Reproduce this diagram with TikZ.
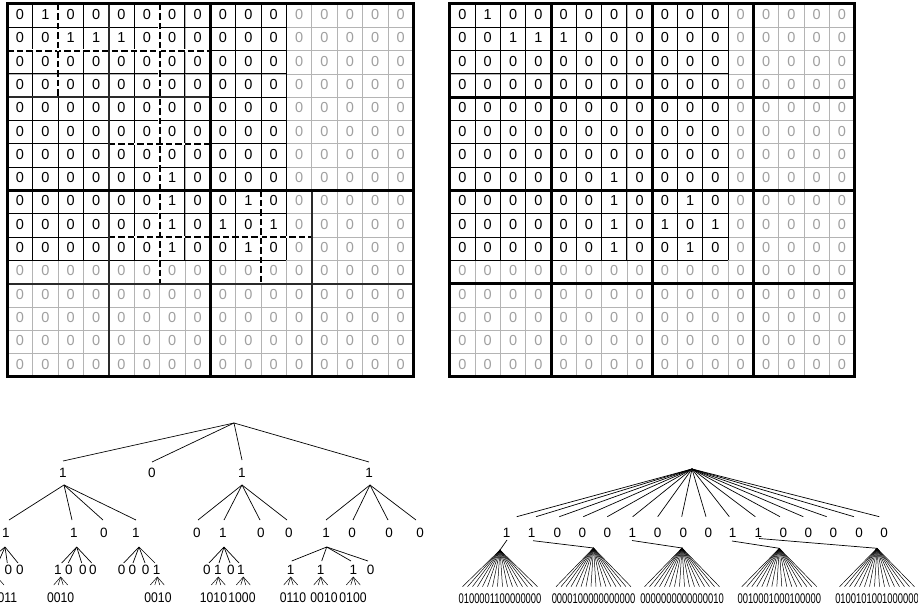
\documentclass[tikz,border=0pt]{standalone}
\usepackage{fontspec}
\setmainfont{Liberation Sans}
\usepackage{graphicx}
\usetikzlibrary{calc}
\definecolor{gline}{HTML}{B4B4B4}
\definecolor{gdigit}{HTML}{A0A0A0}
\definecolor{mline}{HTML}{2A2A2A}
\def\setone#1#2{\expandafter\def\csname one-#1-#2\endcsname{}}
\setone{0}{1}\setone{1}{2}\setone{1}{3}\setone{1}{4}\setone{7}{6}\setone{8}{6}
\setone{8}{9}\setone{9}{6}\setone{9}{8}\setone{9}{10}\setone{10}{6}\setone{10}{9}
\newcommand\cellval[2]{\ifcsname one-#1-#2\endcsname 1\else 0\fi}
\tikzset{
  thinb/.style={black, line width=1pt},
  thing/.style={gline, line width=0.8pt},
  medl/.style={mline, line width=1.8pt},
  thickl/.style={black, line width=3pt},
  dashw/.style={white, line width=2.4pt},
  dashb/.style={black, line width=2pt, dash pattern=on 6.5pt off 3pt},
  digit/.style={font=\fontsize{14.5}{16}\selectfont, inner sep=0pt},
  tlab/.style={font=\fontsize{13.5}{15}\selectfont, inner sep=0pt},
  edge/.style={black, line width=0.7pt},
  fan/.style={black, line width=0.5pt},
  sleaf/.style={font=\fontsize{14}{15}\selectfont, inner sep=0pt},
  bleaf/.style={font=\fontsize{14}{15}\selectfont, inner sep=0pt},
}
\newcommand\basegrid[1]{%
  \foreach \ii in {0,...,16} {\draw[thing] (\ii,0) -- (\ii,16); \draw[thing] (0,\ii) -- (16,\ii);}
  \foreach \ii in {0,...,11} {\draw[thinb] (\ii,0) -- (\ii,11); \draw[thinb] (0,\ii) -- (11,\ii);}
  \foreach \rr in {0,...,15} {\foreach \cc in {0,...,15} {
    \ifnum\rr<11 \ifnum\cc<11 \def\dcol{black}\else\def\dcol{gdigit}\fi\else\def\dcol{gdigit}\fi
    \node[digit, text=\dcol] (#1-\rr-\cc) at (\cc+0.5,\rr+0.45) {\cellval{\rr}{\cc}};
  }}%
}
\newcommand\dline[2]{\draw[dashw] #1 -- #2; \draw[dashb] #1 -- #2;}
\begin{document}
\begin{tikzpicture}[x=1pt,y=-1pt]
\useasboundingbox (0,0) rectangle (918,609);
\clip (0,0) rectangle (918,609);
\fill[white] (0,0) rectangle (918,609);

% ---------- left grid ----------
\begin{scope}[shift={(7.3,4)}, x=25.375pt, y=-23.31pt]
  \basegrid{GL}
  \dline{(0,2)}{(8,2)}
  \dline{(2,0)}{(2,4)}
  \dline{(6,0)}{(6,12)}
  \dline{(4,6)}{(8,6)}
  \dline{(4,10)}{(12,10)}
  \dline{(10,8)}{(10,12)}
  \draw[medl] (4,0) -- (4,16);
  \draw[medl] (0,4) -- (8,4);
  \draw[medl] (0,12) -- (16,12);
  \draw[medl] (12,8) -- (12,16);
  \draw[thickl] (8,0) -- (8,16);
  \draw[thickl] (0,8) -- (16,8);
  \draw[thickl] (0,0) rectangle (16,16);
\end{scope}

% ---------- right grid ----------
\begin{scope}[shift={(449.8,4)}, x=25.3pt, y=-23.31pt]
  \basegrid{GR}
  \foreach \ii in {4,8,12} {\draw[thickl] (\ii,0) -- (\ii,16); \draw[thickl] (0,\ii) -- (16,\ii);}
  \draw[thickl] (0,0) rectangle (16,16);
\end{scope}

% ---------- left tree ----------
\coordinate (lroot) at (234,423);
\foreach \nn/\xx/\vv in {a1/63/1,a2/152/0,a3/242/1,a4/369/1}{\node[tlab] (\nn) at (\xx,473) {\vv};}
\foreach \nn/\dy in {a1/-12,a2/-11,a3/-13,a4/-11}{\draw[edge] (lroot) -- ($(\nn)+(0,\dy)$);}
\foreach \nn/\xx/\vv in {b1/6/1,b2/74/1,b3/104/0,b4/136/1,b5/197/0,b6/223/1,b7/261/0,b8/289/0,b9/326/1,b10/352/0,b11/389/0,b12/420/0}{\node[tlab] (\nn) at (\xx,533) {\vv};}
\foreach \pp/\pdx/\cn/\dx in {a1/1/b1/3,a1/1/b2/-2,a1/1/b3/-1,a1/1/b4/0,a3/0/b5/1,a3/0/b6/1,a3/0/b7/-1,a3/0/b8/-2,a4/1/b9/0,a4/1/b10/1,a4/1/b11/-1,a4/1/b12/-4}{\draw[edge] ($(\pp)+(\pdx,12)$) -- ($(\cn)+(\dx,-13)$);}
\foreach \nn/\xx/\vv in {c1/-17/1,c2/-4/1,c3/8.3/0,c4/20/0,c5/58/1,c6/69/0,c7/83/0,c8/93/0,c9/121.7/0,c10/132.3/0,c11/145.7/0,c12/156.7/1,c13/207/0,c14/218/1,c15/231/0,c16/241/1,c17/290.7/1,c18/320.7/1,c19/353.3/1,c20/370.7/0}{\node[tlab] (\nn) at (\xx,570) {\vv};}
\foreach \pp/\pdx/\cn/\dx/\dy in {b1/-1/c1/3/-7,b1/-1/c2/2/-7,b1/-1/c3/-1/-7,b1/-1/c4/-2/-7,b2/2.7/c5/3.7/-7,b2/2.7/c6/-0.7/-7,b2/2.7/c7/-1.3/-7,b2/2.7/c8/-1.3/-7,b4/3/c9/2/-7,b4/3/c10/0.7/-7,b4/3/c11/-0.7/-7,b4/3/c12/-1.7/-7,b6/1/c13/2/-7,b6/1/c14/1/-7,b6/1/c15/-1/-7,b6/1/c16/-2/-7,b9/0.7/c17/1/-9,b9/0.7/c18/1/-9,b9/0.7/c19/-2.3/-9,b9/0.7/c20/-2.7/-9}{\draw[edge] ($(\pp)+(\pdx,14)$) -- ($(\cn)+(\dx,\dy)$);}
\foreach \nn/\xx/\tx in {d1/-24/0100,d2/4/0011,d3/60.7/0010,d4/158/0010,d5/213.5/1010,d6/242/1000,d7/293/0110,d8/324/0010,d9/353/0100}{\node[sleaf] (\nn) at (\xx,598) {\scalebox{0.87}[1]{\tx}};}
\foreach \cn/\adx in {c1/0,c2/1,c5/2.7,c12/0.6,c14/0.3,c16/2.3,c17/0,c18/0,c19/0}{\foreach \dd in {-7,-2.5,2.5,7}{\draw[fan] ($(\cn)+(\adx,7)$) -- ($(\cn)+(\adx+\dd,15)$);}}

% ---------- right tree ----------
\coordinate (rroot) at (692,469);
\foreach \ii/\lx/\ex/\vv in {1/506.7/516.7/1,2/531.7/536/1,3/557.3/559.3/0,4/582.3/583.3/0,5/607.3/607.3/0,6/632.3/632.7/1,7/657.7/657.7/0,8/683.3/681.7/0,9/708.3/706/0,10/732.7/729.3/1,11/758.3/755.3/1,12/783.3/780/0,13/808.3/803.3/0,14/833.3/826.7/0,15/859/854/0,16/884/879.3/0}{
  \node[tlab] (rt\ii) at (\lx,532.7) {\vv};
  \draw[edge] (rroot) -- ($(rt\ii)+({\ex-\lx},-16)$);
}
\foreach \ii/\src/\sx/\sy/\ax/\ay/\tx in {1/rt1/0.3/7.3/500/550/0100001100000000,2/rt2/1.3/8/593.5/548/0000100000000000,3/rt6/-0.3/7.8/682/548/0000000000000010,4/rt10/-0.7/8.3/779.3/548.3/0010001000100000,5/rt11/0.7/5.8/877/548.3/0100101001000000}{
  \coordinate (fa\ii) at (\ax,\ay);
  \node[bleaf] (lf\ii) at (\ax,598.5) {\scalebox{0.67}[1]{\tx}};
  \draw[edge] ($(\src)+(\sx,\sy)$) -- (fa\ii);
  \foreach \kk in {0,...,15}{\draw[fan] (fa\ii) -- ($(lf\ii)+({(\kk-7.5)*5},-11.8)$);}
}
\end{tikzpicture}
\end{document}
